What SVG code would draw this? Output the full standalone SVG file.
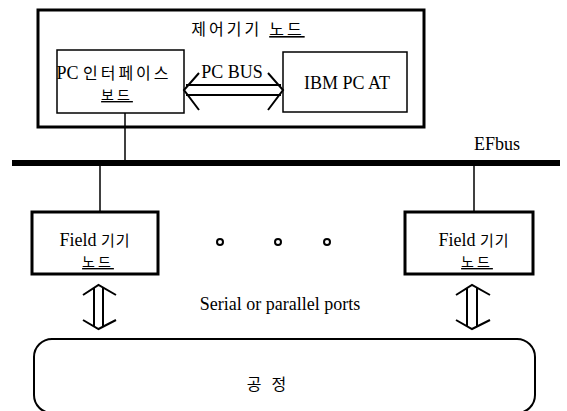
<svg xmlns="http://www.w3.org/2000/svg" width="567" height="411" viewBox="0 0 567 411">
<style>
text{font-family:"Liberation Serif","Noto Sans CJK KR",serif;fill:#000;text-anchor:middle}
.t18{font-size:18px}
.t16{font-size:16px}
.t14{font-size:14px}
.k{letter-spacing:3px}
.u{text-decoration:underline}
.thick{fill:none;stroke:#000;stroke-width:3}
.thin{fill:none;stroke:#000;stroke-width:1.5}
.ln{fill:none;stroke:#000;stroke-width:1.5}
.arr{fill:none;stroke:#000;stroke-width:2}
</style>
<rect width="567" height="411" fill="#fff"/>
<g id="connectors">
<line x1="12" y1="163" x2="560" y2="163" stroke="#000" stroke-width="6"/>
<line class="ln" x1="125" y1="113" x2="125" y2="163"/>
<line class="ln" x1="100" y1="163" x2="100" y2="212"/>
<line class="ln" x1="474" y1="163" x2="474" y2="212"/>
<path class="arr" d="M186,85 H281 M186,95 H281 M199,73 L184,90 L199,110 M268,73 L283,90 L268,110"/>
<path class="arr" d="M94,288 V326 M103,288 V326 M83,295 L98.5,285 L116,295 M83,320 L98.5,329 L116,320"/>
<path class="arr" d="M467,288 V326 M477,288 V326 M456,295 L472,285 L490,295 M456,320 L472,329 L490,320"/>
</g>
<g id="control-node">
<rect class="thick" x="38" y="10" width="386" height="117"/>
<text class="t16 k" x="248" y="35">제어기기 <tspan class="u">노드</tspan></text>
</g>
<g id="pc-interface-board">
<rect class="thin" x="57" y="50" width="127" height="63"/>
<text class="t18" x="114" y="79">PC <tspan class="k" font-size="16">인터페이스</tspan></text>
<text class="t14 u k" x="117" y="100">보드</text>
</g>
<g id="pc-bus-label">
<text class="t18" x="232" y="78">PC BUS</text>
</g>
<g id="ibm-pc-at">
<rect class="thin" x="283" y="52" width="124" height="60"/>
<text class="t18" x="347" y="89">IBM PC AT</text>
</g>
<g id="efbus-label">
<text class="t18" x="497" y="150">EFbus</text>
</g>
<g id="field-node-1">
<rect class="thick" x="32" y="212" width="126" height="62"/>
<text class="t18" x="95" y="246">Field <tspan font-size="15" letter-spacing="1">기기</tspan></text>
<text class="t14 u k" x="98" y="267">노드</text>
</g>
<g id="field-node-2">
<rect class="thick" x="405" y="212" width="128" height="62"/>
<text class="t18" x="474" y="246">Field <tspan font-size="15" letter-spacing="1">기기</tspan></text>
<text class="t14 u k" x="477" y="267">노드</text>
</g>
<g id="dots">
<circle cx="220" cy="242" r="3" fill="#fff" stroke="#000" stroke-width="2"/>
<circle cx="278" cy="242" r="3" fill="#fff" stroke="#000" stroke-width="2"/>
<circle cx="327" cy="242" r="3" fill="#fff" stroke="#000" stroke-width="2"/>
</g>
<g id="ports-label">
<text class="t18" x="280" y="310">Serial or parallel ports</text>
</g>
<g id="process">
<rect x="34" y="339" width="501" height="74" rx="18" ry="18" fill="none" stroke="#000" stroke-width="2"/>
<text class="t16 k" x="268" y="390">공 정</text>
</g>
</svg>
